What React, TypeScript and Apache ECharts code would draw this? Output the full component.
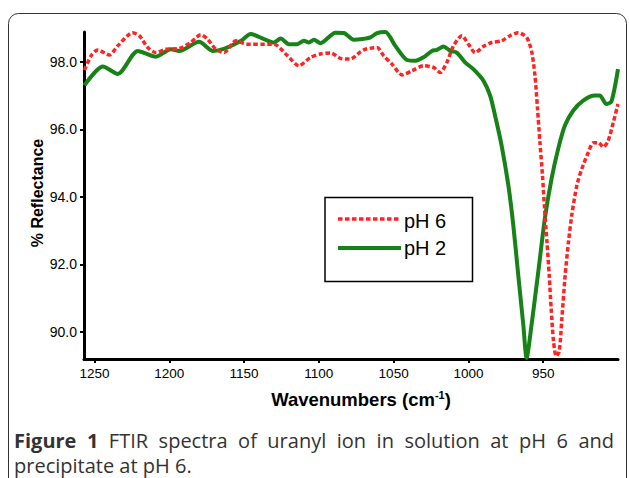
import React, { useEffect, useRef } from "react";
import * as echarts from "echarts";

// pH 2 (green, solid)
const wnPH2 = [1256.7, 1244.4, 1234.4, 1221, 1208.9, 1198.9, 1193.3, 1180, 1171, 1163, 1152, 1145.5, 1136.7, 1130, 1125.5, 1120, 1114.4, 1110, 1106.7, 1103.3, 1098.9, 1088.9, 1083.3, 1076.7, 1071, 1065.5, 1061, 1055.5, 1048.9, 1041, 1035.5, 1030, 1024.4, 1021, 1016.7, 1012, 1007.8, 1002.2, 996.7, 990, 985.5, 982.2, 977.8, 973.3, 970, 966.7, 963.3, 961.1, 957.8, 953.3, 948.9, 944.4, 940, 935.5, 930, 923.3, 915.5, 912.2, 907.8, 904.4, 900];
const valPH2 = [97.3, 97.86, 97.64, 98.32, 98.15, 98.37, 98.32, 98.59, 98.32, 98.39, 98.62, 98.82, 98.67, 98.57, 98.69, 98.52, 98.52, 98.62, 98.57, 98.65, 98.55, 98.86, 98.85, 98.65, 98.67, 98.72, 98.85, 98.88, 98.47, 98.05, 98.03, 98.13, 98.32, 98.35, 98.45, 98.32, 98.27, 97.98, 97.78, 97.44, 97.0, 96.41, 95.52, 94.34, 93.16, 91.69, 90.21, 89.23, 90.21, 91.78, 93.36, 94.54, 95.42, 96.11, 96.55, 96.85, 97.0, 97.0, 96.75, 96.82, 97.78];

// pH 6 (red, dotted)
const wnPH6 = [1256.7, 1252.2, 1247.8, 1240, 1234.4, 1224.4, 1220, 1214.4, 1208.9, 1202.2, 1193.3, 1185.6, 1178.9, 1174.4, 1168.9, 1163.3, 1155.5, 1147.8, 1137.8, 1130, 1121, 1113.3, 1105.5, 1098.9, 1092.2, 1085.5, 1078.9, 1072, 1068.9, 1061.1, 1056.7, 1051.1, 1044.4, 1037.8, 1030, 1023.3, 1018.9, 1014.4, 1010, 1004.4, 1000, 995.5, 990, 984.4, 977.8, 972.2, 966.7, 961.1, 957.8, 955.5, 953.8, 952.2, 950.5, 949.1, 947.5, 946, 944.7, 943.1, 941.3, 939.3, 937.5, 935.3, 933.1, 930.9, 927.5, 924.2, 919.8, 916.5, 913.1, 909.8, 906.5, 903.1, 900];
const valPH6 = [97.75, 98.18, 98.35, 98.2, 98.47, 98.86, 98.77, 98.42, 98.27, 98.37, 98.39, 98.57, 98.8, 98.67, 98.37, 98.27, 98.62, 98.52, 98.52, 98.52, 98.18, 97.88, 98.13, 98.23, 98.26, 98.1, 98.08, 98.3, 98.37, 98.42, 98.18, 97.93, 97.61, 97.73, 97.88, 97.83, 97.68, 97.98, 98.47, 98.77, 98.52, 98.27, 98.45, 98.57, 98.62, 98.77, 98.86, 98.72, 98.32, 97.59, 96.6, 95.62, 94.64, 93.65, 92.67, 91.69, 90.7, 89.72, 89.28, 89.42, 90.41, 91.69, 92.67, 93.46, 94.34, 94.83, 95.32, 95.6, 95.6, 95.47, 95.67, 96.21, 96.75];

const xTicks = [950, 1000, 1050, 1100, 1150, 1200, 1250];
const yTicks = [90, 92, 94, 96, 98];

const seriesNames = ["pH 6", "pH 2"];
const xTitle = "Wavenumbers (cm";
const yTitle = "% Reflectance";
const captionBold = ["Figure", "1"];
const captionLine1 = ["FTIR", "spectra", "of", "uranyl", "ion", "in", "solution", "at", "pH", "6", "and"];
const captionLine2 = "precipitate at pH 6.";

const FONT = "'Liberation Sans', Arial, sans-serif";
const CAP_FONT = "'Open Sans', sans-serif";
const CAP_SIZE = 20;
const RED = "#ff2424";
const GREEN = "#178217";

function measure(text: string, font: string): number {
  const c = document.createElement("canvas").getContext("2d");
  if (!c) return text.length * 10;
  c.font = font;
  return c.measureText(text).width;
}

export default function App() {
  const ref = useRef<HTMLDivElement>(null);
  useEffect(() => {
    if (!ref.current) return;
    const chart = echarts.init(ref.current, null, { renderer: "svg" });
    const zip = (a: number[], b: number[]) => a.map((w, i) => [w, b[i]]);

    // justified first caption line
    const boldFont = `bold ${CAP_SIZE}px ${CAP_FONT}`;
    const regFont = `${CAP_SIZE}px ${CAP_FONT}`;
    const words = [
      ...captionBold.map((t) => ({ t, bold: true })),
      ...captionLine1.map((t) => ({ t, bold: false })),
    ];
    const widths = words.map((w) => measure(w.t, w.bold ? boldFont : regFont));
    const left = 14;
    const right = 614;
    const total = widths.reduce((a, b) => a + b, 0);
    const gap = (right - left - total) / (words.length - 1);
    let cx = left;
    const captionWords = words.map((w, i) => {
      const el = {
        type: "text",
        x: cx,
        y: 440,
        style: {
          text: w.t,
          font: w.bold ? boldFont : regFont,
          fill: "#333",
          textAlign: "left",
          textVerticalAlign: "middle",
        },
      };
      cx += widths[i] + gap;
      return el;
    });

    chart.setOption({
      animation: false,
      backgroundColor: "#fff",
      grid: { left: 84, right: 11, top: 32, bottom: 119, containLabel: false, outerBoundsMode: "none" },
      xAxis: {
        type: "value",
        inverse: true,
        min: 900,
        max: 1257,
        splitLine: { show: false },
        axisLine: { lineStyle: { color: "#000", width: 3 } },
        axisTick: { show: true, length: 4, lineStyle: { color: "#000", width: 2 }, customValues: xTicks },
        axisLabel: {
          customValues: xTicks,
          color: "#000",
          fontSize: 13.5,
          fontFamily: FONT,
          margin: 7,
          formatter: (v: number) => String(v),
        },
      },
      yAxis: {
        type: "value",
        min: 89.2,
        max: 98.88,
        splitLine: { show: false },
        axisLine: { show: true, lineStyle: { color: "#000", width: 3 } },
        axisTick: { show: true, length: 4, lineStyle: { color: "#000", width: 2 }, customValues: yTicks },
        axisLabel: {
          customValues: yTicks,
          color: "#000",
          fontSize: 14,
          fontFamily: FONT,
          margin: 7,
          formatter: (v: number) => v.toFixed(1),
        },
      },
      series: [
        {
          name: seriesNames[0],
          type: "line",
          data: zip(wnPH6, valPH6),
          showSymbol: false,
          smooth: 0.25,
          lineStyle: { color: RED, width: 3.5, type: [4.5, 2.5] },
          z: 3,
        },
        {
          name: seriesNames[1],
          type: "line",
          data: zip(wnPH2, valPH2),
          showSymbol: false,
          smooth: 0.25,
          lineStyle: { color: GREEN, width: 4 },
          z: 2,
        },
      ],
      graphic: [
        {
          type: "rect",
          shape: { x: 8.5, y: 13.5, width: 618, height: 500, r: 10 },
          style: { fill: "none", stroke: "#333", lineWidth: 1 },
          silent: true,
        },
        {
          type: "rect",
          shape: { x: 325, y: 197.5, width: 147.5, height: 84 },
          style: { fill: "#fff", stroke: "#000", lineWidth: 1.5 },
          z: 10,
        },
        {
          type: "line",
          shape: { x1: 338, y1: 219, x2: 400, y2: 219 },
          style: { stroke: RED, lineWidth: 3.5, lineDash: [4.5, 2.5] },
          z: 11,
        },
        {
          type: "line",
          shape: { x1: 338, y1: 248, x2: 401, y2: 248 },
          style: { stroke: GREEN, lineWidth: 4 },
          z: 11,
        },
        {
          type: "text",
          x: 404,
          y: 221,
          style: { text: seriesNames[0], font: `20px ${FONT}`, fill: "#000", textAlign: "left", textVerticalAlign: "middle" },
          z: 11,
        },
        {
          type: "text",
          x: 404,
          y: 248,
          style: { text: seriesNames[1], font: `20px ${FONT}`, fill: "#000", textAlign: "left", textVerticalAlign: "middle" },
          z: 11,
        },
        {
          type: "text",
          x: 37,
          y: 193,
          rotation: Math.PI / 2,
          style: { text: yTitle, font: `bold 16px ${FONT}`, fill: "#000", textAlign: "center", textVerticalAlign: "middle" },
        },
        {
          type: "text",
          x: 361,
          y: 399,
          style: {
            text: `{a|${xTitle}}{s|-1}{a|)}`,
            textAlign: "center",
            textVerticalAlign: "middle",
            rich: {
              a: { fontSize: 18.5, fontWeight: "bold", fontFamily: FONT, color: "#000" },
              s: { fontSize: 11, fontWeight: "bold", fontFamily: FONT, color: "#000", verticalAlign: "top", padding: [0, 0, 8, 0] },
            },
          },
        },
        ...captionWords,
        {
          type: "text",
          x: 14,
          y: 465,
          style: { text: captionLine2, font: regFont, fill: "#333", textAlign: "left", textVerticalAlign: "middle" },
        },
      ],
    });
    return () => chart.dispose();
  }, []);
  return <div ref={ref} style={{ position: "fixed", left: 0, top: 0, width: 629, height: 478 }} />;
}
